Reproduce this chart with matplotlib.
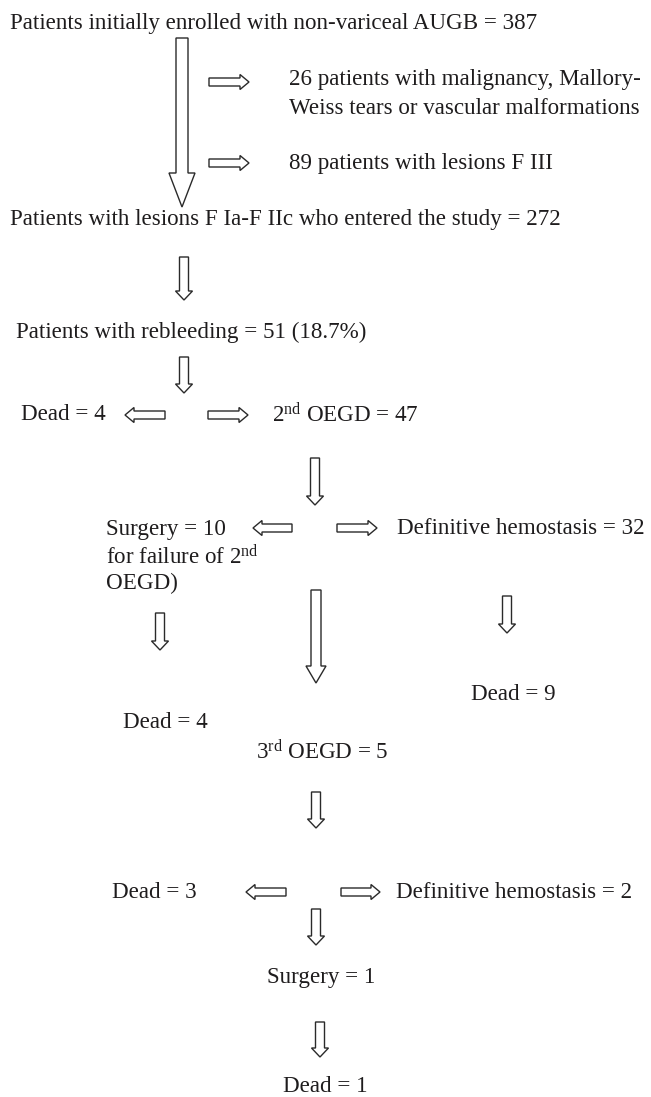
import matplotlib
matplotlib.use("Agg")
import matplotlib.pyplot as plt
from matplotlib.patches import Polygon
import numpy as np

# ---- data ----
enrolled_total = 387
excluded_counts = [26, 89]
excluded_reasons = ["patients with malignancy, Mallory-\nWeiss tears or vascular malformations",
                    "patients with lesions F III"]
entered_total = 272
rebleed_n = 51
rebleed_pct = 18.7
dead_after_rebleed = 4
second_oegd = 47
surgery_after_2nd = 10
hemostasis_after_2nd = 32
dead_after_surgery = 4
dead_after_hemostasis = 9
third_oegd = 5
dead_after_3rd = 3
hemostasis_after_3rd = 2
surgery_after_3rd = 1
dead_final = 1

plt.rcParams['font.family'] = ['Liberation Serif', 'DejaVu Serif']
plt.rcParams['mathtext.fontset'] = 'custom'
plt.rcParams['mathtext.rm'] = 'Liberation Serif'
plt.rcParams['mathtext.it'] = 'Liberation Serif:italic'
plt.rcParams['mathtext.bf'] = 'Liberation Serif:bold'

W, H = 651, 1097
fig = plt.figure(figsize=(W / 100, H / 100), dpi=100)
ax = fig.add_axes([0, 0, 1, 1])
ax.set_xlim(0, W)
ax.set_ylim(H, 0)
ax.axis('off')

TXT = '#1e1c1d'
FS = 16.6


def block_arrow(x0, y0, x1, y1, shaft, headw, headlen):
    d = np.array([x1 - x0, y1 - y0], float)
    L = np.hypot(*d)
    u = d / L
    n = np.array([-u[1], u[0]])
    p0 = np.array([x0, y0], float)
    hb = p0 + u * (L - headlen)
    pts = [p0 + n * shaft / 2, hb + n * shaft / 2, hb + n * headw / 2,
           p0 + u * L, hb - n * headw / 2, hb - n * shaft / 2, p0 - n * shaft / 2]
    ax.add_patch(Polygon(pts, closed=True, facecolor='white', edgecolor='#2a2a2a',
                         lw=1.0, joinstyle='miter'))


def txt(x, y, s):
    ax.text(x, y, s, fontsize=FS, color=TXT, ha='left', va='center')


def down(x, y0, y1, shaft=9, headw=17, headlen=9):
    block_arrow(x, y0, x, y1, shaft, headw, headlen)


def horiz(x0, x1, y, shaft=8, headw=15, headlen=9):
    block_arrow(x0, y, x1, y, shaft, headw, headlen)


# row 1
txt(10, 24, f"Patients initially enrolled with non-variceal AUGB = {enrolled_total}")
block_arrow(182, 38, 182, 207, 12, 26, 34)
horiz(209, 249, 82)
horiz(209, 249, 163)
l1, l2 = excluded_reasons[0].split("\n")
txt(289, 80, f"{excluded_counts[0]} {l1}")
txt(289, 108, l2)
txt(289, 163, f"{excluded_counts[1]} {excluded_reasons[1]}")

txt(10, 219, f"Patients with lesions F Ia-F IIc who entered the study = {entered_total}")
down(184, 257, 300)
txt(16, 332, f"Patients with rebleeding = {rebleed_n} ({rebleed_pct}%)")
down(184, 357, 393)

txt(21, 415, f"Dead = {dead_after_rebleed}")
horiz(165, 125, 415)
horiz(208, 248, 415)
txt(272, 415, r"2$^{\mathrm{nd}}$ OEGD = " + f"{second_oegd}")
down(315, 458, 505)

txt(106, 529, f"Surgery = {surgery_after_2nd}")
txt(106, 557, r"for failure of 2$^{\mathrm{nd}}$")
txt(106, 583, "OEGD)")
horiz(292, 253, 528)
horiz(337, 377, 528)
txt(397, 529, f"Definitive hemostasis = {hemostasis_after_2nd}")

down(160, 613, 650)
block_arrow(316, 590, 316, 683, 10, 20, 17)
down(507, 596, 633)

txt(471, 695, f"Dead = {dead_after_hemostasis}")
txt(123, 723, f"Dead = {dead_after_surgery}")
txt(256, 752, r"3$^{\mathrm{rd}}$ OEGD = " + f"{third_oegd}")
down(316, 792, 828)

txt(112, 892, f"Dead = {dead_after_3rd}")
horiz(286, 246, 892)
horiz(341, 380, 892)
txt(396, 892, f"Definitive hemostasis = {hemostasis_after_3rd}")
down(316, 909, 945)
txt(267, 977, f"Surgery = {surgery_after_3rd}")
down(320, 1022, 1057)
txt(283, 1087, f"Dead = {dead_final}")

fig.savefig("out.png", dpi=100, facecolor='white')
